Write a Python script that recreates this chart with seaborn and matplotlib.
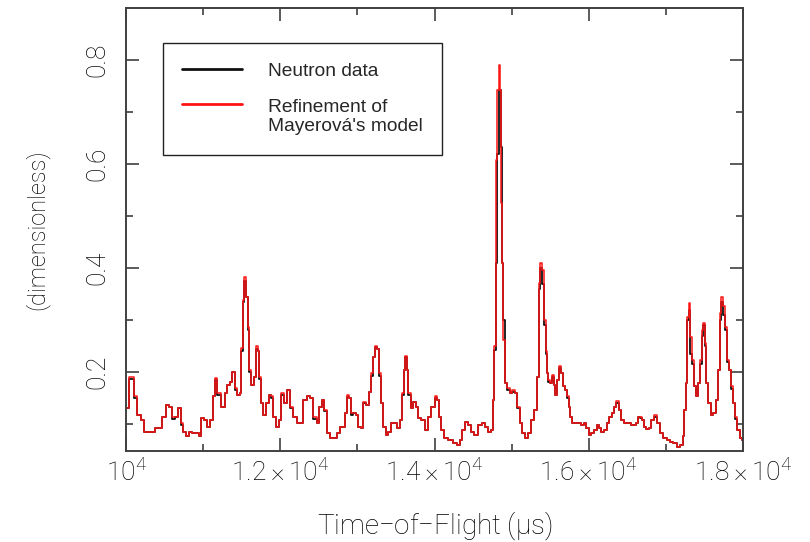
import matplotlib
matplotlib.use("Agg")
import matplotlib.pyplot as plt
import seaborn as sns

# time-of-flight (microseconds)
tof = [10000, 10082, 10126, 10169, 10211, 10255, 10298, 10363, 10385, 10450,
       10493, 10535, 10580, 10622, 10657, 10687, 10730, 10752, 10795, 10839,
       10882, 10924, 10959, 10998, 11033, 11076, 11106, 11141, 11163, 11206,
       11262, 11293, 11335, 11365, 11391, 11426, 11456, 11487, 11500, 11521,
       11539, 11565, 11586, 11608, 11643, 11673, 11695, 11715, 11737, 11759,
       11802, 11837, 11867, 11897, 11923, 11967, 11997, 12027, 12062, 12104,
       12148, 12191, 12234, 12278, 12321, 12364, 12408, 12451, 12493, 12524,
       12550, 12580, 12623, 12667, 12710, 12753, 12801, 12830, 12853, 12882,
       12904, 12930, 12960, 12991, 13025, 13060, 13090, 13134, 13155, 13190,
       13219, 13242, 13264, 13284, 13319, 13349, 13380, 13414, 13449, 13492,
       13536, 13566, 13588, 13609, 13630, 13652, 13673, 13708, 13738, 13769,
       13803, 13847, 13899, 13933, 13984, 14019, 14041, 14071, 14106, 14149,
       14201, 14266, 14309, 14340, 14373, 14418, 14451, 14482, 14547, 14590,
       14642, 14677, 14711, 14742, 14762, 14784, 14806, 14823, 14840, 14853,
       14871, 14884, 14901, 14923, 14957, 14992, 15022, 15057, 15087, 15118,
       15160, 15195, 15229, 15273, 15316, 15338, 15359, 15381, 15403, 15433,
       15450, 15463, 15489, 15502, 15533, 15554, 15567, 15597, 15627, 15649,
       15670, 15705, 15727, 15748, 15770, 15800, 15835, 15878, 15922, 15955,
       15986, 16016, 16051, 16085, 16116, 16146, 16181, 16215, 16246, 16279,
       16311, 16344, 16375, 16405, 16440, 16483, 16526, 16561, 16591, 16622,
       16655, 16677, 16707, 16733, 16764, 16794, 16829, 16859, 16902, 16946,
       16989, 17031, 17076, 17118, 17161, 17205, 17226, 17248, 17270, 17283,
       17304, 17326, 17348, 17369, 17400, 17434, 17455, 17477, 17494, 17516,
       17537, 17563, 17594, 17628, 17659, 17689, 17711, 17728, 17754, 17780,
       17802, 17832, 17854, 17883, 17909, 17939, 17970, 17996]

# refinement of the model (red)
model = [0.130, 0.190, 0.153, 0.117, 0.108, 0.085, 0.085, 0.085, 0.092, 0.092,
         0.114, 0.137, 0.133, 0.114, 0.114, 0.130, 0.101, 0.085, 0.077, 0.085,
         0.082, 0.082, 0.076, 0.111, 0.108, 0.095, 0.108, 0.153, 0.188, 0.159,
         0.133, 0.159, 0.175, 0.181, 0.200, 0.169, 0.156, 0.159, 0.246, 0.338,
         0.383, 0.345, 0.287, 0.204, 0.175, 0.191, 0.249, 0.240, 0.191, 0.140,
         0.117, 0.140, 0.156, 0.153, 0.114, 0.095, 0.108, 0.159, 0.140, 0.165,
         0.133, 0.114, 0.101, 0.101, 0.146, 0.153, 0.150, 0.114, 0.101, 0.133,
         0.146, 0.127, 0.082, 0.072, 0.072, 0.082, 0.095, 0.095, 0.121, 0.156,
         0.150, 0.121, 0.121, 0.117, 0.095, 0.092, 0.143, 0.137, 0.162, 0.197,
         0.229, 0.250, 0.244, 0.197, 0.140, 0.095, 0.079, 0.085, 0.101, 0.101,
         0.092, 0.108, 0.159, 0.204, 0.231, 0.204, 0.159, 0.130, 0.143, 0.133,
         0.111, 0.108, 0.088, 0.114, 0.133, 0.153, 0.146, 0.114, 0.088, 0.072,
         0.069, 0.063, 0.060, 0.069, 0.088, 0.104, 0.098, 0.085, 0.079, 0.098,
         0.101, 0.095, 0.085, 0.088, 0.146, 0.250, 0.608, 0.742, 0.790, 0.742,
         0.524, 0.409, 0.262, 0.178, 0.169, 0.159, 0.165, 0.159, 0.133, 0.101,
         0.082, 0.072, 0.082, 0.108, 0.127, 0.191, 0.371, 0.409, 0.396, 0.300,
         0.240, 0.197, 0.185, 0.178, 0.194, 0.175, 0.156, 0.185, 0.212, 0.197,
         0.172, 0.165, 0.153, 0.133, 0.114, 0.101, 0.101, 0.101, 0.098, 0.101,
         0.092, 0.079, 0.082, 0.088, 0.098, 0.092, 0.085, 0.088, 0.101, 0.114,
         0.121, 0.133, 0.145, 0.127, 0.108, 0.101, 0.101, 0.098, 0.098, 0.101,
         0.114, 0.114, 0.108, 0.095, 0.090, 0.092, 0.108, 0.117, 0.101, 0.082,
         0.072, 0.069, 0.066, 0.063, 0.056, 0.060, 0.076, 0.127, 0.178, 0.306,
         0.333, 0.268, 0.223, 0.172, 0.153, 0.178, 0.223, 0.281, 0.295, 0.255,
         0.178, 0.140, 0.117, 0.121, 0.146, 0.204, 0.313, 0.345, 0.326, 0.287,
         0.223, 0.204, 0.172, 0.140, 0.114, 0.088, 0.072, 0.069]

# measured neutron data (black), mostly hidden under the red curve
neutron = [0.130, 0.186, 0.150, 0.117, 0.108, 0.085, 0.085, 0.085, 0.092, 0.092,
           0.114, 0.137, 0.133, 0.110, 0.114, 0.130, 0.098, 0.085, 0.077, 0.085,
           0.082, 0.082, 0.076, 0.111, 0.108, 0.095, 0.108, 0.153, 0.185, 0.155,
           0.133, 0.159, 0.175, 0.181, 0.200, 0.165, 0.156, 0.159, 0.240, 0.335,
           0.375, 0.345, 0.280, 0.200, 0.175, 0.191, 0.245, 0.240, 0.186, 0.140,
           0.117, 0.140, 0.156, 0.150, 0.114, 0.095, 0.108, 0.155, 0.140, 0.165,
           0.130, 0.114, 0.101, 0.101, 0.146, 0.153, 0.150, 0.110, 0.101, 0.133,
           0.146, 0.125, 0.082, 0.072, 0.072, 0.082, 0.095, 0.095, 0.121, 0.152,
           0.150, 0.118, 0.121, 0.117, 0.095, 0.092, 0.140, 0.137, 0.162, 0.193,
           0.229, 0.247, 0.244, 0.193, 0.140, 0.095, 0.079, 0.085, 0.101, 0.101,
           0.092, 0.108, 0.155, 0.204, 0.228, 0.204, 0.155, 0.130, 0.143, 0.133,
           0.111, 0.108, 0.088, 0.114, 0.133, 0.150, 0.146, 0.114, 0.088, 0.072,
           0.069, 0.063, 0.060, 0.069, 0.088, 0.104, 0.098, 0.085, 0.079, 0.098,
           0.101, 0.095, 0.085, 0.088, 0.146, 0.242, 0.409, 0.620, 0.742, 0.742,
           0.632, 0.409, 0.300, 0.178, 0.165, 0.159, 0.162, 0.159, 0.130, 0.101,
           0.082, 0.072, 0.082, 0.108, 0.127, 0.191, 0.360, 0.400, 0.370, 0.290,
           0.235, 0.197, 0.180, 0.178, 0.190, 0.175, 0.156, 0.185, 0.208, 0.197,
           0.172, 0.165, 0.150, 0.133, 0.114, 0.101, 0.101, 0.101, 0.098, 0.101,
           0.092, 0.079, 0.082, 0.088, 0.098, 0.092, 0.085, 0.088, 0.101, 0.114,
           0.121, 0.133, 0.141, 0.127, 0.108, 0.101, 0.101, 0.098, 0.098, 0.101,
           0.114, 0.111, 0.108, 0.095, 0.090, 0.092, 0.108, 0.114, 0.101, 0.082,
           0.072, 0.069, 0.066, 0.063, 0.056, 0.060, 0.076, 0.127, 0.178, 0.300,
           0.320, 0.235, 0.215, 0.172, 0.153, 0.178, 0.215, 0.270, 0.290, 0.250,
           0.178, 0.140, 0.117, 0.121, 0.146, 0.204, 0.300, 0.335, 0.310, 0.280,
           0.220, 0.204, 0.168, 0.140, 0.110, 0.088, 0.072, 0.069]

xtick_pos = [10000, 12000, 14000, 16000, 18000]
xtick_labels = [r"$10^{4}$", r"$1.2\times10^{4}$", r"$1.4\times10^{4}$",
                r"$1.6\times10^{4}$", r"$1.8\times10^{4}$"]
xtick_minor = [11000, 13000, 15000, 17000]
ytick_pos = [0.2, 0.4, 0.6, 0.8]
ytick_minor = [0.1, 0.3, 0.5, 0.7]

sns.set_theme(style="ticks")
plt.rcParams["font.family"] = ["Roboto", "DejaVu Sans"]
plt.rcParams["font.weight"] = "light"
plt.rcParams["mathtext.fontset"] = "custom"
plt.rcParams["mathtext.rm"] = "Roboto:light"
plt.rcParams["mathtext.it"] = "Roboto:light"
plt.rcParams["mathtext.default"] = "rm"

fig = plt.figure(figsize=(8.1, 5.42), dpi=100)
ax = fig.add_axes([0.1556, 0.167, 0.7617, 0.8183])

sns.lineplot(x=tof, y=neutron, color="#111111", lw=1.3, drawstyle="steps-mid",
             label="Neutron data", ax=ax)
sns.lineplot(x=tof, y=model, color="#ff1414", lw=1.1, drawstyle="steps-mid",
             label="Refinement of\nMayerová's model", ax=ax)

ax.set_xlim(10000, 18000)
ax.set_ylim(0.047, 0.9)
ax.set_xticks(xtick_pos)
ax.set_xticklabels(xtick_labels)
ax.set_xticks(xtick_minor, minor=True)
ax.set_yticks(ytick_pos)
ax.set_yticklabels([str(v) for v in ytick_pos], rotation=90, va="center")
ax.set_yticks(ytick_minor, minor=True)

ax.tick_params(which="both", direction="in", top=True, right=True,
               color="#404040", width=1.2, labelcolor="#000000")
ax.tick_params(which="major", length=9.5, labelsize=19)
ax.tick_params(axis="x", which="major", pad=5)
ax.tick_params(axis="y", which="major", pad=12)
ax.tick_params(which="minor", length=5)
for sp in ax.spines.values():
    sp.set_color("#404040")
    sp.set_linewidth(1.4)

ax.set_xlabel("Time\u2212of\u2212Flight ($\\mu$s)", fontsize=20, fontweight="light",
              color="#000000", labelpad=17)
ax.set_ylabel("(dimensionless)", fontsize=17, fontweight="light",
              color="#000000", labelpad=26)

leg = ax.legend(loc="upper left", bbox_to_anchor=(0.06, 0.921), borderaxespad=0,
                frameon=True, fancybox=False, framealpha=1, edgecolor="#222222",
                prop={"family": "Liberation Sans", "size": 13.8, "weight": "normal"},
                handlelength=3.1, handletextpad=1.4, borderpad=1.0, labelspacing=1.0)
leg.get_frame().set_linewidth(1.0)
for line in leg.get_lines():
    line.set_linewidth(2.0)
# the reference puts the red sample level with the first line of its label
red = leg.get_lines()[1]
red.set_ydata([y + 9 for y in red.get_ydata()])

fig.savefig("out.png", dpi=100)
